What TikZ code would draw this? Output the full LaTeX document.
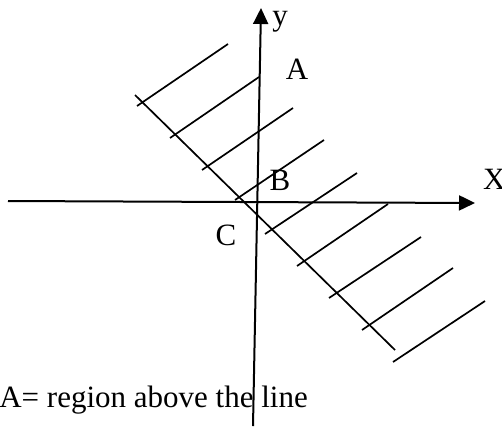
\documentclass[tikz,border=0pt]{standalone}
\usepackage{fontspec}
\setmainfont{Liberation Serif}
\usetikzlibrary{arrows.meta}
\begin{document}
\begin{tikzpicture}[x=1pt,y=-1pt,
  axis/.style={line width=2pt,-{Triangle[length=16pt,width=15pt]}},
  hatchline/.style={line width=1.7pt},
  lbl/.style={font=\fontsize{31}{33}\selectfont,inner sep=0pt}]
\useasboundingbox (0,0) rectangle (502,426);
% axes
\coordinate (xs) at (8,201);
\coordinate (xe) at (475,203);
\coordinate (ys) at (253,426);
\coordinate (ye) at (261,8);
\draw[axis] (xs) -- (xe);
\draw[axis] (ys) -- (ye);
% boundary line
\coordinate (ls) at (135,95);
\coordinate (le) at (395,350);
\draw[hatchline] (ls) -- (le);
% hatching
\foreach \i/\a/\b/\c/\d in {1/137/106/228/44, 2/170/138/259/77, 3/202/170/293/108,
  4/235/200/324/140, 5/265/234/357/173, 6/297/266/388/204, 7/329/298/421/237,
  8/362/330/453/268, 9/393/362/485/301}{
  \coordinate (h\i s) at (\a,\b);
  \coordinate (h\i e) at (\c,\d);
  \draw[hatchline] (h\i s) -- (h\i e);
}
% labels
\node[lbl,anchor=base] (ylab) at (280,25) {y};
\node[lbl,anchor=base west] (xlab) at (483,189) {X};
\node[lbl,anchor=base] (alab) at (297,79) {A};
\node[lbl,anchor=base] (blab) at (280,190) {B};
\node[lbl,anchor=base] (clab) at (226,245) {C};
\node[lbl,anchor=base east] (note) at (308,407) {A= region above the line};
\end{tikzpicture}
\end{document}
